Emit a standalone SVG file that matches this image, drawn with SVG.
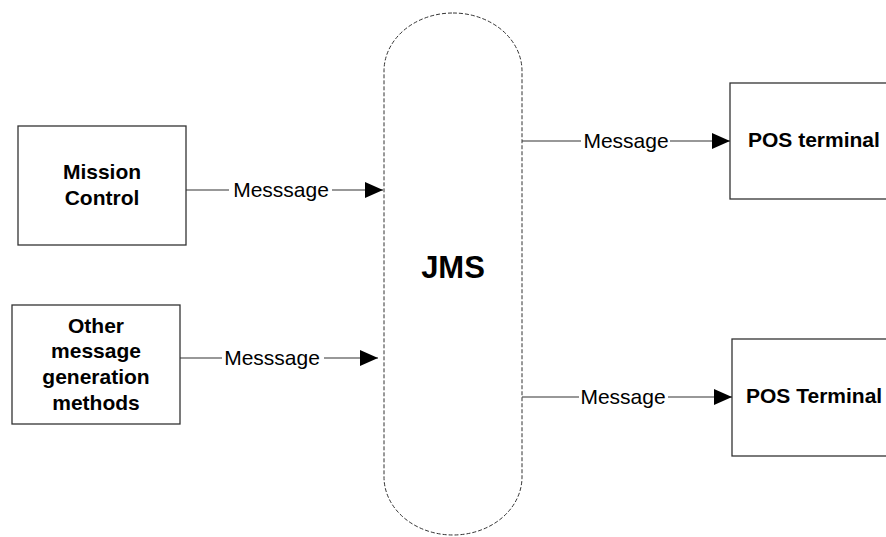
<svg xmlns="http://www.w3.org/2000/svg" width="886" height="537" viewBox="0 0 886 537">
<style>
.box{fill:#fff;stroke:#333;stroke-width:1.3}
.pill{fill:#fff;stroke:#333;stroke-width:1;stroke-dasharray:4 2}
.ln{fill:none;stroke:#333;stroke-width:1.2}
.b{font-family:"Liberation Sans",Arial,sans-serif;font-weight:bold;font-size:21px;fill:#000}
.r{font-family:"Liberation Sans",Arial,sans-serif;font-size:21px;fill:#000}
</style>
<defs>
<marker id="ah" viewBox="0 0 18 16" refX="18" refY="8" markerWidth="18" markerHeight="16" markerUnits="userSpaceOnUse" orient="auto">
<path d="M0,0 L18,8 L0,16 Z" fill="#000"/>
</marker>
</defs>
<rect width="886" height="537" fill="#fff"/>
<g id="jms">
<rect class="pill" x="384" y="13" width="138" height="522" rx="69" ry="58"/>
<text class="b" x="453" y="278" text-anchor="middle" style="font-size:31px">JMS</text>
</g>
<g id="mission-control">
<rect class="box" x="18" y="126" width="168" height="119"/>
<text class="b" x="102" y="179" text-anchor="middle">Mission</text>
<text class="b" x="102" y="205" text-anchor="middle">Control</text>
</g>
<g id="other-methods">
<rect class="box" x="12" y="305" width="168" height="119"/>
<text class="b" x="96" y="333" text-anchor="middle">Other</text>
<text class="b" x="96" y="358" text-anchor="middle">message</text>
<text class="b" x="96" y="384" text-anchor="middle">generation</text>
<text class="b" x="96" y="410" text-anchor="middle">methods</text>
</g>
<g id="pos-terminal-1">
<rect class="box" x="730" y="83" width="170" height="116"/>
<text class="b" x="748" y="147">POS terminal</text>
</g>
<g id="pos-terminal-2">
<rect class="box" x="732" y="339" width="170" height="117"/>
<text class="b" x="746" y="403">POS Terminal</text>
</g>
<g id="connectors">
<path class="ln" d="M186,190 H229"/>
<path class="ln" d="M332,190 H383" marker-end="url(#ah)"/>
<text class="r" x="281" y="197" text-anchor="middle">Messsage</text>
<path class="ln" d="M180,358 H222"/>
<path class="ln" d="M324,358 H378" marker-end="url(#ah)"/>
<text class="r" x="272" y="365" text-anchor="middle">Messsage</text>
<path class="ln" d="M522,141 H581"/>
<path class="ln" d="M670,141 H730" marker-end="url(#ah)"/>
<text class="r" x="626" y="148" text-anchor="middle">Message</text>
<path class="ln" d="M522,397 H579"/>
<path class="ln" d="M668,397 H732" marker-end="url(#ah)"/>
<text class="r" x="623" y="404" text-anchor="middle">Message</text>
</g>
</svg>
